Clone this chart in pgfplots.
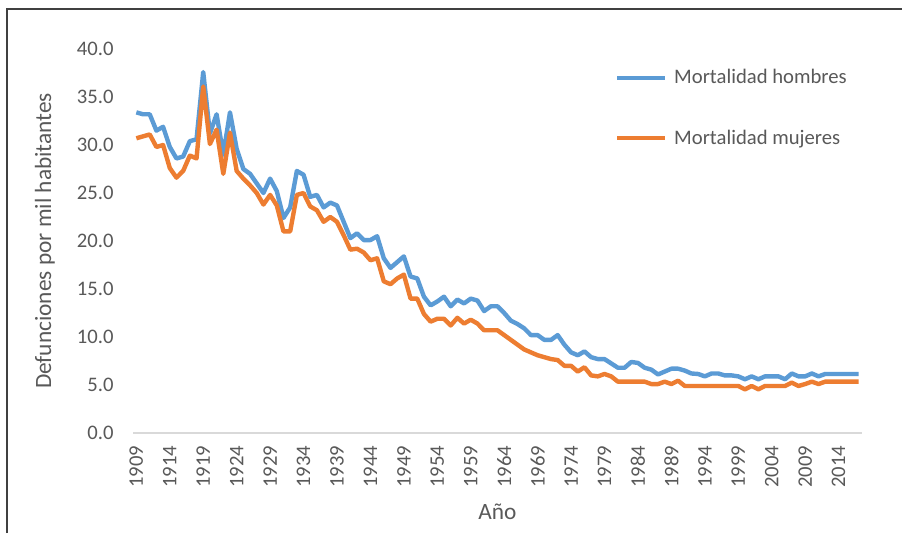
\documentclass[border=0pt]{standalone}
\usepackage{fontspec}
\setmainfont{Carlito}
\usepackage{pgfplots}
\usepackage{pgfplotstable}
\pgfplotsset{compat=1.18}
\definecolor{cblue}{HTML}{5B9BD5}
\definecolor{corange}{HTML}{ED7D31}
\definecolor{tgray}{HTML}{595959}
\definecolor{agray}{HTML}{D9D9D9}

\pgfplotstableread{
year m f
1909 33.4 30.7
1910 33.2 30.9
1911 33.2 31.1
1912 31.5 29.8
1913 31.9 30.0
1914 29.8 27.6
1915 28.6 26.6
1916 28.8 27.3
1917 30.4 28.9
1918 30.6 28.6
1919 37.6 36.1
1920 31.2 30.1
1921 33.2 31.6
1922 29.0 27.0
1923 33.4 31.3
1924 29.6 27.3
1925 27.5 26.5
1926 27.0 25.8
1927 26.0 25.0
1928 25.0 23.8
1929 26.5 24.8
1930 25.2 23.7
1931 22.4 21.0
1932 23.5 21.0
1933 27.3 24.8
1934 26.9 25.0
1935 24.6 23.6
1936 24.8 23.2
1937 23.5 22.0
1938 24.0 22.5
1939 23.7 22.0
1940 22.0 20.6
1941 20.3 19.1
1942 20.8 19.2
1943 20.1 18.8
1944 20.1 18.0
1945 20.5 18.2
1946 18.2 15.8
1947 17.2 15.5
1948 17.8 16.1
1949 18.4 16.5
1950 16.3 14.0
1951 16.1 14.0
1952 14.2 12.4
1953 13.3 11.6
1954 13.7 11.9
1955 14.2 11.9
1956 13.2 11.2
1957 13.9 12.0
1958 13.5 11.4
1959 14.0 11.8
1960 13.8 11.4
1961 12.7 10.7
1962 13.2 10.7
1963 13.2 10.7
1964 12.5 10.2
1965 11.7 9.7
1966 11.35 9.2
1967 10.9 8.7
1968 10.2 8.4
1969 10.2 8.1
1970 9.7 7.9
1971 9.7 7.7
1972 10.2 7.6
1973 9.2 7.0
1974 8.4 7.0
1975 8.1 6.4
1976 8.5 6.85
1977 7.9 6.0
1978 7.7 5.9
1979 7.7 6.15
1980 7.25 5.9
1981 6.8 5.35
1982 6.8 5.35
1983 7.4 5.35
1984 7.3 5.35
1985 6.8 5.35
1986 6.6 5.1
1987 6.1 5.1
1988 6.4 5.35
1989 6.7 5.1
1990 6.7 5.45
1991 6.5 4.9
1992 6.2 4.9
1993 6.15 4.9
1994 5.9 4.9
1995 6.2 4.9
1996 6.2 4.9
1997 6.0 4.9
1998 6.0 4.9
1999 5.9 4.9
2000 5.6 4.55
2001 5.9 4.9
2002 5.6 4.55
2003 5.9 4.9
2004 5.9 4.9
2005 5.9 4.9
2006 5.6 4.9
2007 6.2 5.25
2008 5.9 4.9
2009 5.9 5.1
2010 6.2 5.35
2011 5.9 5.1
2012 6.15 5.35
2013 6.15 5.35
2014 6.15 5.35
2015 6.15 5.35
2016 6.15 5.35
2017 6.15 5.35
}\datatable

\begin{document}
\begin{tikzpicture}
\path[use as bounding box] (0,0) rectangle (676.5pt,-399.75pt);
\fill[white] (0,0) rectangle (676.5pt,-399.75pt);
\draw[line width=1.5pt, color=black!75] (4.9pt,-399.75pt) -- (4.9pt,-6.75pt) -- (676.5pt,-6.75pt);
\begin{axis}[
  at={(99.75pt,-324.75pt)}, anchor=south west,
  scale only axis, width=546.75pt, height=288pt,
  xmin=1908.5, xmax=2017.5, ymin=0, ymax=40,
  axis lines=left,
  x axis line style={-, draw=agray, line width=1pt},
  y axis line style={draw=none},
  major tick length=0pt,
  tick style={draw=none},
  xtick={1909,1914,...,2014},
  ytick={0,5,...,40},
  /pgf/number format/assume math mode=true,
  xticklabel style={rotate=90, anchor=east, font=\fontsize{15.5}{18}\selectfont, text=tgray, /pgf/number format/1000 sep={}},
  yticklabel style={font=\fontsize{15.5}{18}\selectfont, text=tgray, /pgf/number format/fixed, /pgf/number format/fixed zerofill, /pgf/number format/precision=1},
  xticklabel shift=6pt,
  yticklabel shift=11pt,
  xlabel={Año},
  ylabel={Defunciones por mil habitantes},
  xlabel style={at={(axis description cs:0.5,-0.2057)}, anchor=center, font=\fontsize{17.5}{20}\selectfont, text=tgray},
  ylabel style={at={(axis description cs:-0.1207,0.5)}, anchor=center, rotate=0, font=\fontsize{17.5}{20}\selectfont, text=tgray},
  legend cell align=left,
  legend image code/.code={\draw[#1] (0pt,0pt) -- (36pt,0pt);},
  legend style={draw=none, fill=none, at={(0.661,0.947)}, anchor=north west, inner sep=0pt, row sep=33pt, /tikz/column sep=5pt, nodes={inner sep=0pt, text=tgray}, font=\fontsize{15.5}{18}\selectfont},
]
\addplot[cblue, line width=3.3pt, line join=round] table[x=year,y=m]{\datatable};
\addplot[corange, line width=3.3pt, line join=round] table[x=year,y=f]{\datatable};
\legend{Mortalidad hombres, Mortalidad mujeres}
\end{axis}
\end{tikzpicture}
\end{document}
